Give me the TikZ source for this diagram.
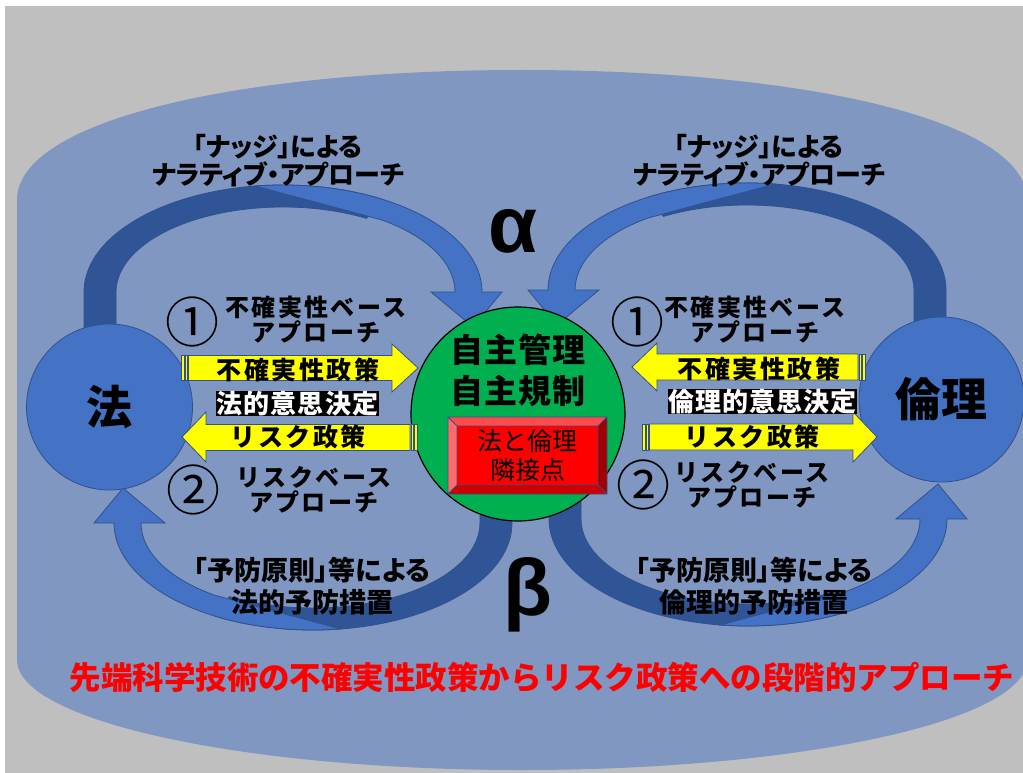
\documentclass[tikz,border=0pt]{standalone}
\usepackage{fontspec}
\setmainfont{Liberation Sans}
\newfontfamily\jp{Noto Sans CJK JP}
\newfontfamily\jpp{Noto Sans CJK JP}[RawFeature=+palt]
\newfontfamily\jpw{Noto Sans CJK JP}[LetterSpace=10]
\newfontfamily\jpv{Noto Sans CJK JP}[LetterSpace=4]
\definecolor{bggray}{HTML}{BFBFBF}
\definecolor{field}{HTML}{7F97C1}
\definecolor{lightb}{HTML}{4472C4}
\definecolor{darkb}{HTML}{2F5597}
\definecolor{bord}{HTML}{2F528F}
\definecolor{grn}{HTML}{00B050}
\definecolor{yel}{HTML}{FFFF00}
\definecolor{bevtop}{HTML}{FF4B4B}
\definecolor{bevleft}{HTML}{FF6B6B}
\definecolor{bevright}{HTML}{A00000}
\definecolor{bevbot}{HTML}{CC0000}
\newcommand\carrow[1]{%
  \filldraw[fill=darkb, draw=bord, line width=0.8pt] (-199,#1) -- (180:199 and 107)
    arc[start angle=180, end angle=300, x radius=199, y radius=107]
    -- (300:167 and 85)
    arc[start angle=300, end angle=180, x radius=167, y radius=85]
    -- (-167,#1) -- cycle;
  \filldraw[fill=lightb, draw=bord, line width=0.8pt] (262:199 and 107)
    arc[start angle=262, end angle=360, x radius=199, y radius=107]
    -- (219,0) -- (190,35) -- (148,0) -- (0:172 and 88)
    arc[start angle=360, end angle=305, x radius=172, y radius=88] -- cycle;}
\tikzset{
  blk/.style={fill=yel, draw=bord, line width=0.8pt},
  lbl/.style={inner sep=0pt, align=center, text=black},
  nudge/.style={lbl, font=\jpp\bfseries\fontsize{26}{28}\selectfont},
  appr/.style={lbl, font=\jpw\bfseries\fontsize{24}{25}\selectfont},
  num/.style={lbl, font=\jp\fontsize{54}{54}\selectfont},
  arrtxt/.style={lbl, font=\jpw\bfseries\fontsize{25}{25}\selectfont},
  dec/.style={inner sep=0.5pt, fill=black, text=white, font=\jpv\bfseries\fontsize{26}{26}\selectfont},
  prev/.style={lbl, font=\jpp\bfseries\fontsize{27}{32}\selectfont},
  greek/.style={lbl, font=\bfseries\fontsize{80}{80}\selectfont},
  pole/.style={circle, fill=lightb, draw=bord, line width=0.8pt, inner sep=0pt,
    font=\jp\bfseries\fontsize{46}{46}\selectfont}
}
\begin{document}
\begin{tikzpicture}[x=1pt, y=-1pt]
\useasboundingbox (0,0) rectangle (1023,773);
\fill[white] (0,0) rectangle (1023,773);
\fill[bggray] (5,6) rectangle (1023,773);
% field
\fill[field] (17,200) .. controls (17,120) and (240,70) .. (522,70)
  .. controls (804,70) and (1027,120) .. (1027,200)
  -- (1027,660) arc[start angle=0, end angle=180, x radius=505, y radius=110] -- cycle;
% curved arrows
\begin{scope}[shift={(283,292)}]\carrow{45}\end{scope}
\begin{scope}[shift={(747,290)}, xscale=-1]\carrow{45}\end{scope}
\begin{scope}[shift={(313,523)}, xscale=-1, yscale=-1]\carrow{25}\end{scope}
\begin{scope}[shift={(748,519)}, yscale=-1]\carrow{25}\end{scope}
% poles
\node[pole, minimum size=166pt] (law) at (109.5,407) {法};
\node[pole, minimum size=165pt] (ethics) at (941.5,399.5) {倫理};
\node[circle, fill=grn, draw=black, line width=1.2pt, minimum size=214pt, inner sep=0pt] (core) at (518,414) {};
\node[lbl, font=\jpv\bfseries\fontsize{33}{41}\selectfont] (self) at (518,370) {自主管理\\自主規制};
% bevel box
\fill[bevtop] (448,417) -- (607,417) -- (598,426) -- (457,426) -- cycle;
\fill[bevleft] (448,417) -- (457,426) -- (457,485) -- (448,494) -- cycle;
\fill[bevright] (607,417) -- (607,494) -- (598,485) -- (598,426) -- cycle;
\fill[bevbot] (448,494) -- (607,494) -- (598,485) -- (457,485) -- cycle;
\node[fill=red, minimum width=141pt, minimum height=59pt, inner sep=0pt, align=center,
  font=\jp\fontsize{25}{29}\selectfont] (adj) at (527.5,455.5) {法と倫理\\隣接点};
\draw[bord, line width=0.8pt] (448,417) rectangle (607,494)
  (448,417) -- (457,426) (607,417) -- (598,426) (607,494) -- (598,485) (448,494) -- (457,485)
  (457,426) rectangle (598,485);
% left block arrows
\filldraw[blk] (188.5,355.5) -- (392,355.5) -- (392,344) -- (418,368) -- (392,392) -- (392,380.5) -- (188.5,380.5) -- cycle;
\filldraw[blk] (181,355.5) rectangle (184,380.5);
\filldraw[blk] (185.5,355.5) rectangle (187,380.5);
\filldraw[blk] (182,437) -- (206,412) -- (206,424.5) -- (410,424.5) -- (410,450.5) -- (206,450.5) -- (206,462) -- cycle;
\filldraw[blk] (411.5,424.5) rectangle (413,450.5);
\filldraw[blk] (414.5,424.5) rectangle (417.5,450.5);
% right block arrows
\filldraw[blk] (632,367) -- (657,343) -- (657,354) -- (858,354) -- (858,380) -- (657,380) -- (657,391) -- cycle;
\filldraw[blk] (859.5,354) rectangle (861,380);
\filldraw[blk] (862.5,354) rectangle (865.5,380);
\filldraw[blk] (649.5,424) -- (853,424) -- (853,412) -- (877,437) -- (853,462) -- (853,450) -- (649.5,450) -- cycle;
\filldraw[blk] (642,424) rectangle (645,450);
\filldraw[blk] (646.5,424) rectangle (648,450);
% arrow texts
\node[arrtxt] (u1) at (298,370) {不確実性政策};
\node[arrtxt] (r1) at (298,437) {リスク政策};
\node[arrtxt] (u2) at (759,369) {不確実性政策};
\node[arrtxt] (r2) at (752,437) {リスク政策};
\node[dec] (d1) at (297.5,403.5) {法的意思決定};
\node[dec] (d2) at (762.5,401.5) {倫理的意思決定};
% labels
\node[nudge] (n1) at (278,161) {「ナッジ」による\\ナラティブ・アプローチ};
\node[nudge] (n2) at (759,161) {「ナッジ」による\\ナラティブ・アプローチ};
\node[greek] (alpha) at (513,231) {α};
\node[greek] (beta) at (528,595) {β};
\node[num] (c1l) at (192,322) {①};
\node[num] (c1r) at (637,322) {①};
\node[num] (c2l) at (193,490) {②};
\node[num] (c2r) at (643,485) {②};
\node[appr] (a1l) at (316,320) {不確実性ベース\\アプローチ};
\node[appr] (a1r) at (755,320) {不確実性ベース\\アプローチ};
\node[appr] (a2l) at (314,490) {リスクベース\\アプローチ};
\node[appr] (a2r) at (752,485) {リスクベース\\アプローチ};
\node[prev] (p1) at (312,586) {「予防原則」等による\\法的予防措置};
\node[prev] (p2) at (754,586) {「予防原則」等による\\倫理的予防措置};
\node[lbl, text=red, font=\jp\bfseries\fontsize{31.5}{32}\selectfont] (title) at (542,677)
  {先端科学技術の不確実性政策からリスク政策への段階的アプローチ};
\end{tikzpicture}
\end{document}
